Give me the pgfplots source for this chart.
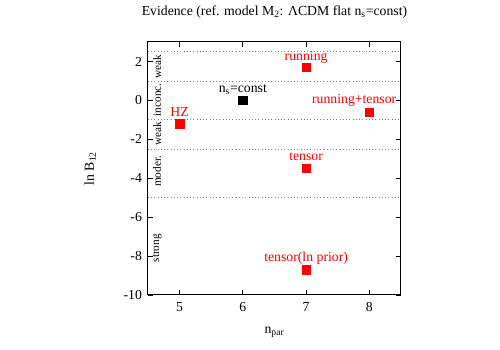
\documentclass[border=0pt]{standalone}
\usepackage{fontspec}
\setmainfont{Liberation Serif}
\usepackage{pgfplots}
\pgfplotsset{compat=1.18}
\begin{document}
\fontsize{11}{13}\selectfont
\begin{tikzpicture}
\useasboundingbox (-118.4pt,-44pt) rectangle (281.6pt,236pt);
\begin{axis}[
  at={(0,0)}, anchor=south west,
  scale only axis, width=202.4pt, height=202.4pt,
  xmin=4.5, xmax=8.5, ymin=-10, ymax=3,
  xtick={5,6,7,8}, ytick={-10,-8,-6,-4,-2,0,2},
  yticklabels={-10,-8,-6,-4,-2,0,2},
  xticklabels={5,6,7,8},
  xtick pos=both, ytick pos=both,
  xticklabel pos=lower, yticklabel pos=left,
  tick align=inside, major tick length=4pt,
  tick style={black, line width=0.6pt},
  axis line style={line width=0.8pt},
  ticklabel style={font=\fontsize{11}{13}\selectfont},
  yticklabel style={xshift=-1pt},
  xticklabel style={yshift=-2pt},
  /pgf/number format/assume math mode=true,
  title={Evidence (ref. model M\textsubscript{2}: ΛCDM flat n\textsubscript{s}=const)},
  title style={at={(axis description cs:0.5,1)}, anchor=base, yshift=15.5pt, font=\fontsize{11}{13}\selectfont},
  xlabel={n\textsubscript{par}},
  xlabel style={at={(axis description cs:0.5,-0.146)}, anchor=center, font=\fontsize{11}{13}\selectfont},
  ylabel={ln B\textsubscript{12}},
  ylabel style={at={(axis description cs:-0.229,0.5)}, anchor=center, font=\fontsize{11}{13}\selectfont},
  clip=false,
]
% evidence scale lines
\addplot[gray, dotted, line width=0.6pt] coordinates {(4.5,2.5) (8.5,2.5)};
\addplot[gray, dotted, line width=0.6pt] coordinates {(4.5,1) (8.5,1)};
\addplot[gray, dotted, line width=0.6pt] coordinates {(4.5,-1) (8.5,-1)};
\addplot[gray, dotted, line width=0.6pt] coordinates {(4.5,-2.5) (8.5,-2.5)};
\addplot[gray, dotted, line width=0.6pt] coordinates {(4.5,-5) (8.5,-5)};
% points
\addplot[only marks, mark=square*, mark size=3.4pt, red, mark options={fill=red, draw=red}]
  coordinates {(5,-1.2) (7,1.7) (8,-0.6) (7,-3.5) (7,-8.7)};
\addplot[only marks, mark=square*, mark size=3.4pt, black, mark options={fill=black, draw=black}]
  coordinates {(6,0)};
% point labels
\node[red, anchor=base, font=\fontsize{11}{13}\selectfont] at (axis cs:5,-0.85) {HZ};
\node[black, anchor=base, font=\fontsize{11}{13}\selectfont] at (axis cs:6,0.4) {n\textsubscript{s}=const};
\node[red, anchor=base, font=\fontsize{11}{13}\selectfont] at (axis cs:7,2.05) {running};
\node[red, anchor=base, font=\fontsize{11}{13}\selectfont] at (axis cs:7.76,-0.15) {running+tensor};
\node[red, anchor=base, font=\fontsize{11}{13}\selectfont] at (axis cs:7,-3.1) {tensor};
\node[red, anchor=base, font=\fontsize{11}{13}\selectfont] at (axis cs:7,-8.3) {tensor(ln prior)};
% evidence scale names
\node[rotate=90, font=\fontsize{9}{11}\selectfont] at (axis cs:4.645,1.75) {weak};
\node[rotate=90, font=\fontsize{9}{11}\selectfont] at (axis cs:4.645,0.03) {inconc.};
\node[rotate=90, font=\fontsize{9}{11}\selectfont] at (axis cs:4.645,-1.7) {weak};
\node[rotate=90, font=\fontsize{9}{11}\selectfont] at (axis cs:4.645,-3.65) {moder.};
\node[rotate=90, font=\fontsize{9}{11}\selectfont] at (axis cs:4.645,-7.6) {strong};
\end{axis}
\end{tikzpicture}
\end{document}
